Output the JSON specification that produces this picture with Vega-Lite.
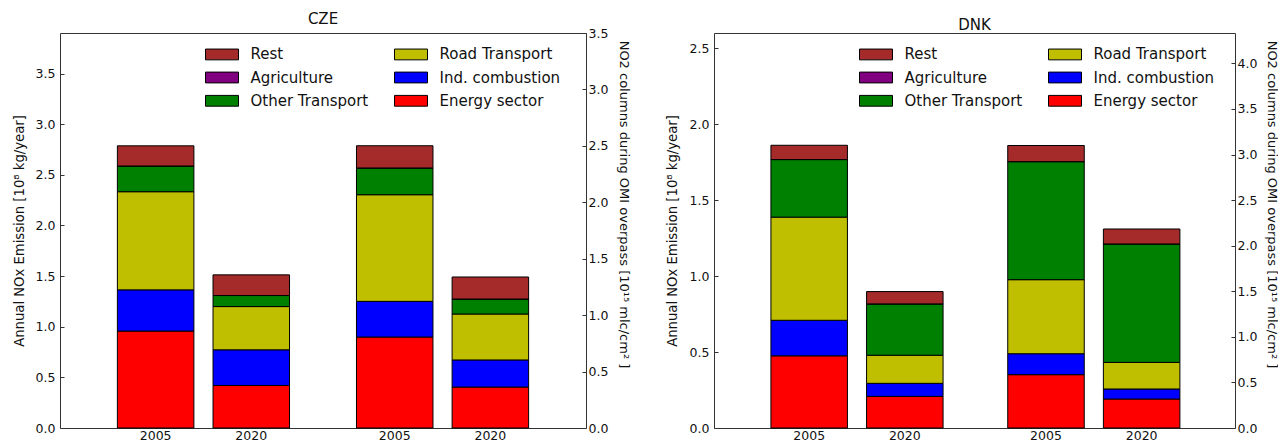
{
  "$schema": "https://vega.github.io/schema/vega-lite/v6.json",
  "padding": {"left": 11, "top": 11, "right": 0, "bottom": 0},
  "background": "white",
  "config": {
    "font": "DejaVu Sans",
    "view": {"stroke": "#333333", "strokeWidth": 1},
    "axis": {"labelColor": "#111111", "titleColor": "#111111", "labelFontSize": 12.5, "titleFontSize": 13.2, "titleFontWeight": "normal", "grid": false, "domain": false, "tickColor": "#333333", "tickSize": -4, "labelPadding": 9, "titleBaseline": "bottom"},
    "title": {"fontSize": 15, "fontWeight": "normal", "color": "#111111", "offset": 0.01, "anchor": "middle"},
    "legend": {"orient": "none", "title": null, "columns": 2, "labelFontSize": 15, "labelColor": "#111111", "symbolType": "M-2.75,-0.9H2.75V0.9H-2.75Z", "symbolSize": 144, "symbolStrokeColor": "black", "symbolStrokeWidth": 1, "symbolOpacity": 1, "labelOffset": 21, "columnPadding": 24, "rowPadding": 7.3, "padding": 0, "legendX": 154.5, "legendY": 13.7}
  },
  "data": {"values": [
    {"country": "CZE", "group": "Emission", "year": "2005", "sector": "Energy sector", "value": 0.957},
    {"country": "CZE", "group": "Emission", "year": "2005", "sector": "Ind. combustion", "value": 0.407},
    {"country": "CZE", "group": "Emission", "year": "2005", "sector": "Road Transport", "value": 0.969},
    {"country": "CZE", "group": "Emission", "year": "2005", "sector": "Other Transport", "value": 0.254},
    {"country": "CZE", "group": "Emission", "year": "2005", "sector": "Agriculture", "value": 0},
    {"country": "CZE", "group": "Emission", "year": "2005", "sector": "Rest", "value": 0.199},
    {"country": "CZE", "group": "Emission", "year": "2020", "sector": "Energy sector", "value": 0.420},
    {"country": "CZE", "group": "Emission", "year": "2020", "sector": "Ind. combustion", "value": 0.352},
    {"country": "CZE", "group": "Emission", "year": "2020", "sector": "Road Transport", "value": 0.427},
    {"country": "CZE", "group": "Emission", "year": "2020", "sector": "Other Transport", "value": 0.109},
    {"country": "CZE", "group": "Emission", "year": "2020", "sector": "Agriculture", "value": 0},
    {"country": "CZE", "group": "Emission", "year": "2020", "sector": "Rest", "value": 0.204},
    {"country": "CZE", "group": "NO2", "year": "2005", "sector": "Energy sector", "value": 0.806},
    {"country": "CZE", "group": "NO2", "year": "2005", "sector": "Ind. combustion", "value": 0.316},
    {"country": "CZE", "group": "NO2", "year": "2005", "sector": "Road Transport", "value": 0.945},
    {"country": "CZE", "group": "NO2", "year": "2005", "sector": "Other Transport", "value": 0.237},
    {"country": "CZE", "group": "NO2", "year": "2005", "sector": "Agriculture", "value": 0},
    {"country": "CZE", "group": "NO2", "year": "2005", "sector": "Rest", "value": 0.197},
    {"country": "CZE", "group": "NO2", "year": "2020", "sector": "Energy sector", "value": 0.363},
    {"country": "CZE", "group": "NO2", "year": "2020", "sector": "Ind. combustion", "value": 0.240},
    {"country": "CZE", "group": "NO2", "year": "2020", "sector": "Road Transport", "value": 0.407},
    {"country": "CZE", "group": "NO2", "year": "2020", "sector": "Other Transport", "value": 0.133},
    {"country": "CZE", "group": "NO2", "year": "2020", "sector": "Agriculture", "value": 0},
    {"country": "CZE", "group": "NO2", "year": "2020", "sector": "Rest", "value": 0.195},
    {"country": "DNK", "group": "Emission", "year": "2005", "sector": "Energy sector", "value": 0.475},
    {"country": "DNK", "group": "Emission", "year": "2005", "sector": "Ind. combustion", "value": 0.234},
    {"country": "DNK", "group": "Emission", "year": "2005", "sector": "Road Transport", "value": 0.679},
    {"country": "DNK", "group": "Emission", "year": "2005", "sector": "Other Transport", "value": 0.379},
    {"country": "DNK", "group": "Emission", "year": "2005", "sector": "Agriculture", "value": 0},
    {"country": "DNK", "group": "Emission", "year": "2005", "sector": "Rest", "value": 0.094},
    {"country": "DNK", "group": "Emission", "year": "2020", "sector": "Energy sector", "value": 0.208},
    {"country": "DNK", "group": "Emission", "year": "2020", "sector": "Ind. combustion", "value": 0.086},
    {"country": "DNK", "group": "Emission", "year": "2020", "sector": "Road Transport", "value": 0.185},
    {"country": "DNK", "group": "Emission", "year": "2020", "sector": "Other Transport", "value": 0.338},
    {"country": "DNK", "group": "Emission", "year": "2020", "sector": "Agriculture", "value": 0},
    {"country": "DNK", "group": "Emission", "year": "2020", "sector": "Rest", "value": 0.081},
    {"country": "DNK", "group": "NO2", "year": "2005", "sector": "Energy sector", "value": 0.585},
    {"country": "DNK", "group": "NO2", "year": "2005", "sector": "Ind. combustion", "value": 0.230},
    {"country": "DNK", "group": "NO2", "year": "2005", "sector": "Road Transport", "value": 0.812},
    {"country": "DNK", "group": "NO2", "year": "2005", "sector": "Other Transport", "value": 1.295},
    {"country": "DNK", "group": "NO2", "year": "2005", "sector": "Agriculture", "value": 0},
    {"country": "DNK", "group": "NO2", "year": "2005", "sector": "Rest", "value": 0.177},
    {"country": "DNK", "group": "NO2", "year": "2020", "sector": "Energy sector", "value": 0.318},
    {"country": "DNK", "group": "NO2", "year": "2020", "sector": "Ind. combustion", "value": 0.110},
    {"country": "DNK", "group": "NO2", "year": "2020", "sector": "Road Transport", "value": 0.292},
    {"country": "DNK", "group": "NO2", "year": "2020", "sector": "Other Transport", "value": 1.299},
    {"country": "DNK", "group": "NO2", "year": "2020", "sector": "Agriculture", "value": 0},
    {"country": "DNK", "group": "NO2", "year": "2020", "sector": "Rest", "value": 0.164}
  ]},
  "transform": [{"window": [{"op": "row_number", "as": "k"}], "groupby": ["country", "group", "year"]}],
  "spacing": 34,
  "hconcat": [
    {
      "title": "CZE",
      "width": 526, "height": 395,
      "transform": [{"filter": "datum.country === 'CZE'"}],
      "encoding": {
        "x": {"field": "group", "type": "nominal", "axis": null, "sort": ["Emission", "NO2"], "scale": {"paddingInner": 0.2, "paddingOuter": 0.2}},
        "xOffset": {"field": "year", "type": "nominal", "sort": ["2005", "2020"], "scale": {"paddingInner": 0.2, "paddingOuter": 0.1}}
      },
      "layer": [
        {
          "transform": [{"filter": "datum.group === 'Emission'"}],
          "encoding": {"y": {"field": "value", "type": "quantitative", "stack": "zero", "scale": {"domain": [0, 3.9], "nice": false, "zero": true}, "axis": {"orient": "left", "title": "Annual NOx Emission [10⁸  kg/year]", "titleX": -34, "values": [0, 0.5, 1, 1.5, 2, 2.5, 3, 3.5], "format": ".1f"}}},
          "layer": [
            {"mark": {"type": "bar", "stroke": "black", "strokeWidth": 1, "opacity": 1},
             "encoding": {
               "color": {"field": "sector", "type": "nominal", "scale": {"domain": ["Rest", "Agriculture", "Other Transport", "Road Transport", "Ind. combustion", "Energy sector"], "range": ["#a52a2a", "#800080", "#008000", "#bfbf00", "#0000ff", "#ff0000"]}},
               "order": {"field": "k", "type": "quantitative", "sort": "ascending"}}},
            {"transform": [{"filter": "datum.sector === 'Energy sector'"}],
             "mark": {"type": "text", "baseline": "top", "dy": 2, "fontSize": 12.5, "color": "#111111"},
             "encoding": {"y": {"datum": 0, "type": "quantitative"}, "text": {"field": "year"}}}
          ]
        },
        {
          "transform": [{"filter": "datum.group === 'NO2'"}],
          "encoding": {"y": {"field": "value", "type": "quantitative", "stack": "zero", "scale": {"domain": [0, 3.5], "nice": false, "zero": true}, "axis": {"orient": "right", "title": "NO2 columns during OMI overpass [10¹⁵  mlc/cm² ]", "titleFontSize": 13, "titleX": 30, "titleY": 171, "labelPadding": 6, "values": [0, 0.5, 1, 1.5, 2, 2.5, 3, 3.5], "format": ".1f"}}},
          "layer": [
            {"mark": {"type": "bar", "stroke": "black", "strokeWidth": 1, "opacity": 1},
             "encoding": {
               "color": {"field": "sector", "type": "nominal", "scale": {"domain": ["Rest", "Agriculture", "Other Transport", "Road Transport", "Ind. combustion", "Energy sector"], "range": ["#a52a2a", "#800080", "#008000", "#bfbf00", "#0000ff", "#ff0000"]}},
               "order": {"field": "k", "type": "quantitative", "sort": "ascending"}}},
            {"transform": [{"filter": "datum.sector === 'Energy sector'"}],
             "mark": {"type": "text", "baseline": "top", "dy": 2, "fontSize": 12.5, "color": "#111111"},
             "encoding": {"y": {"datum": 0, "type": "quantitative"}, "text": {"field": "year"}}}
          ]
        }
      ],
      "resolve": {"scale": {"y": "independent"}}
    },
    {
      "title": "DNK",
      "width": 521, "height": 395,
      "transform": [{"filter": "datum.country === 'DNK'"}],
      "encoding": {
        "x": {"field": "group", "type": "nominal", "axis": null, "sort": ["Emission", "NO2"], "scale": {"paddingInner": 0.2, "paddingOuter": 0.2}},
        "xOffset": {"field": "year", "type": "nominal", "sort": ["2005", "2020"], "scale": {"paddingInner": 0.2, "paddingOuter": 0.1}}
      },
      "layer": [
        {
          "transform": [{"filter": "datum.group === 'Emission'"}],
          "encoding": {"y": {"field": "value", "type": "quantitative", "stack": "zero", "scale": {"domain": [0, 2.6], "nice": false, "zero": true}, "axis": {"orient": "left", "title": "Annual NOx Emission [10⁸  kg/year]", "titleX": -35, "values": [0, 0.5, 1, 1.5, 2, 2.5], "format": ".1f"}}},
          "layer": [
            {"mark": {"type": "bar", "stroke": "black", "strokeWidth": 1, "opacity": 1},
             "encoding": {
               "color": {"field": "sector", "type": "nominal", "scale": {"domain": ["Rest", "Agriculture", "Other Transport", "Road Transport", "Ind. combustion", "Energy sector"], "range": ["#a52a2a", "#800080", "#008000", "#bfbf00", "#0000ff", "#ff0000"]}},
               "order": {"field": "k", "type": "quantitative", "sort": "ascending"}}},
            {"transform": [{"filter": "datum.sector === 'Energy sector'"}],
             "mark": {"type": "text", "baseline": "top", "dy": 2, "fontSize": 12.5, "color": "#111111"},
             "encoding": {"y": {"datum": 0, "type": "quantitative"}, "text": {"field": "year"}}}
          ]
        },
        {
          "transform": [{"filter": "datum.group === 'NO2'"}],
          "encoding": {"y": {"field": "value", "type": "quantitative", "stack": "zero", "scale": {"domain": [0, 4.333], "nice": false, "zero": true}, "axis": {"orient": "right", "title": "NO2 columns during OMI overpass [10¹⁵  mlc/cm² ]", "titleFontSize": 13, "titleX": 29, "titleY": 171, "labelPadding": 6, "values": [0, 0.5, 1, 1.5, 2, 2.5, 3, 3.5, 4], "format": ".1f"}}},
          "layer": [
            {"mark": {"type": "bar", "stroke": "black", "strokeWidth": 1, "opacity": 1},
             "encoding": {
               "color": {"field": "sector", "type": "nominal", "scale": {"domain": ["Rest", "Agriculture", "Other Transport", "Road Transport", "Ind. combustion", "Energy sector"], "range": ["#a52a2a", "#800080", "#008000", "#bfbf00", "#0000ff", "#ff0000"]}},
               "order": {"field": "k", "type": "quantitative", "sort": "ascending"}}},
            {"transform": [{"filter": "datum.sector === 'Energy sector'"}],
             "mark": {"type": "text", "baseline": "top", "dy": 2, "fontSize": 12.5, "color": "#111111"},
             "encoding": {"y": {"datum": 0, "type": "quantitative"}, "text": {"field": "year"}}}
          ]
        }
      ],
      "resolve": {"scale": {"y": "independent"}}
    }
  ],
  "resolve": {"legend": {"color": "independent"}}
}
